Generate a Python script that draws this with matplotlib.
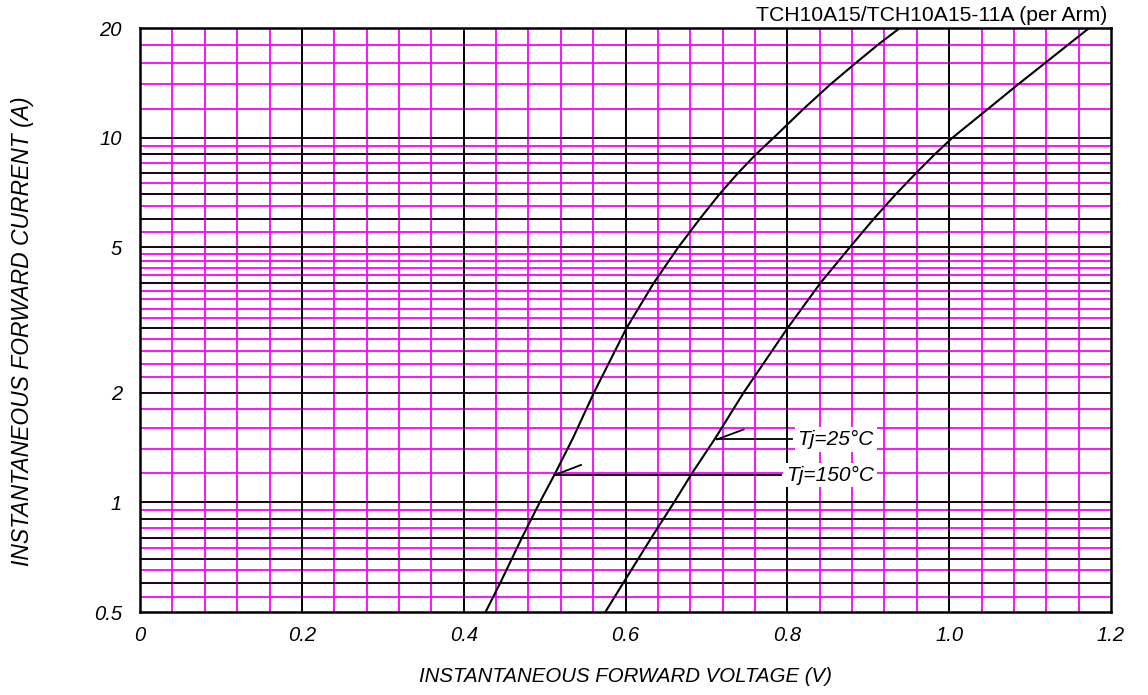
import numpy as np
import matplotlib.pyplot as plt

# Forward characteristic
current_150 = [0.5, 0.6, 0.8, 1.0, 1.2, 1.5, 2, 3, 4, 5, 6, 7, 8, 9, 10, 12, 14, 16, 18, 20]
voltage_150 = [0.427, 0.445, 0.472, 0.494, 0.513, 0.535, 0.561, 0.601, 0.635, 0.665,
               0.692, 0.716, 0.739, 0.761, 0.783, 0.820, 0.853, 0.884, 0.912, 0.939]

current_25 = [0.5, 0.6, 0.8, 1.0, 1.2, 1.5, 2, 3, 4, 5, 6, 7, 8, 9, 10, 12, 14, 16, 18, 20]
voltage_25 = [0.575, 0.597, 0.632, 0.660, 0.682, 0.711, 0.746, 0.800, 0.841, 0.877,
              0.907, 0.934, 0.959, 0.982, 1.004, 1.048, 1.085, 1.118, 1.147, 1.173]

x_ticks = [0, 0.2, 0.4, 0.6, 0.8, 1.0, 1.2]
x_tick_labels = ['0', '0.2', '0.4', '0.6', '0.8', '1.0', '1.2']
y_ticks = [0.5, 1, 2, 5, 10, 20]
y_tick_labels = ['0.5', '1', '2', '5', '10', '20']

# graph paper lines
x_major = [0.2, 0.4, 0.6, 0.8, 1.0]
x_minor = [v for v in np.round(np.arange(0.04, 1.2, 0.04), 2) if round(v / 0.2, 6) % 1 != 0]
y_major = [0.6, 0.7, 0.8, 0.9, 1, 2, 3, 4, 5, 6, 7, 8, 9, 10]
y_minor = ([0.55, 0.65, 0.75, 0.85, 0.95, 1.2, 1.4, 1.6, 1.8]
           + [2.2, 2.4, 2.6, 2.8, 3.2, 3.4, 3.6, 3.8, 4.2, 4.4, 4.6, 4.8]
           + [5.5, 6.5, 7.5, 8.5, 9.5, 12, 14, 16, 18])

MAG = '#ff00ff'

fig = plt.figure(figsize=(11.48, 6.95), dpi=100)
ax = fig.add_axes([0.1220, 0.1194, 0.8458, 0.8403])
ax.set_yscale('log')
ax.set_xlim(0, 1.2)
ax.set_ylim(0.5, 20)

for v in x_minor:
    ax.axvline(v, color=MAG, lw=1.3, zorder=1)
for v in y_minor:
    ax.axhline(v, color=MAG, lw=1.3, zorder=1)
for v in x_major:
    ax.axvline(v, color='black', lw=1.4, zorder=2)
for v in y_major:
    ax.axhline(v, color='#1a001a', lw=1.4, zorder=2)

ax.plot(voltage_150, current_150, color='black', lw=1.5, zorder=3)
ax.plot(voltage_25, current_25, color='black', lw=1.5, zorder=3)

# leaders and labels
lab_font = dict(family='Liberation Sans', style='italic', size=15)
box = dict(facecolor='white', edgecolor='none', pad=2)

ax.plot([0.713, 0.806], [1.488, 1.488], color='black', lw=1.3, zorder=4)
ax.plot([0.713, 0.746], [1.488, 1.584], color='black', lw=1.3, zorder=4)
ax.text(0.907, 1.488, 'Tj=25°C', ha='right', va='center', bbox=box, zorder=5, **lab_font)

ax.plot([0.512, 0.792], [1.187, 1.187], color='black', lw=1.3, zorder=4)
ax.plot([0.512, 0.545], [1.187, 1.266], color='black', lw=1.3, zorder=4)
ax.text(0.907, 1.187, 'Tj=150°C', ha='right', va='center', bbox=box, zorder=5, **lab_font)

ax.minorticks_off()
ax.set_xticks(x_ticks)
ax.set_xticklabels(x_tick_labels)
ax.set_yticks(y_ticks)
ax.set_yticklabels(y_tick_labels)
ax.tick_params(length=0, labelsize=14.5)
ax.tick_params(axis='x', pad=10)
ax.tick_params(axis='y', pad=13)
for t in ax.get_xticklabels() + ax.get_yticklabels():
    t.set_fontstyle('italic')
    t.set_family('Liberation Sans')

for s in ax.spines.values():
    s.set_linewidth(1.8)
    s.set_zorder(6)

ax.set_xlabel('INSTANTANEOUS FORWARD VOLTAGE (V)', va='center',
              family='Liberation Sans', style='italic', size=14.7)
ax.xaxis.set_label_coords(0.5, -0.1096)
ax.set_ylabel('INSTANTANEOUS FORWARD CURRENT (A)', va='center',
              family='Liberation Sans', style='italic', size=16.5)
ax.yaxis.set_label_coords(-0.1215, 0.481)

fig.text(0.9643, 1 - 21 / 695, 'TCH10A15/TCH10A15-11A (per Arm)', ha='right', va='baseline',
         family='Liberation Sans', size=15.2)

fig.savefig('out.png', dpi=100)
